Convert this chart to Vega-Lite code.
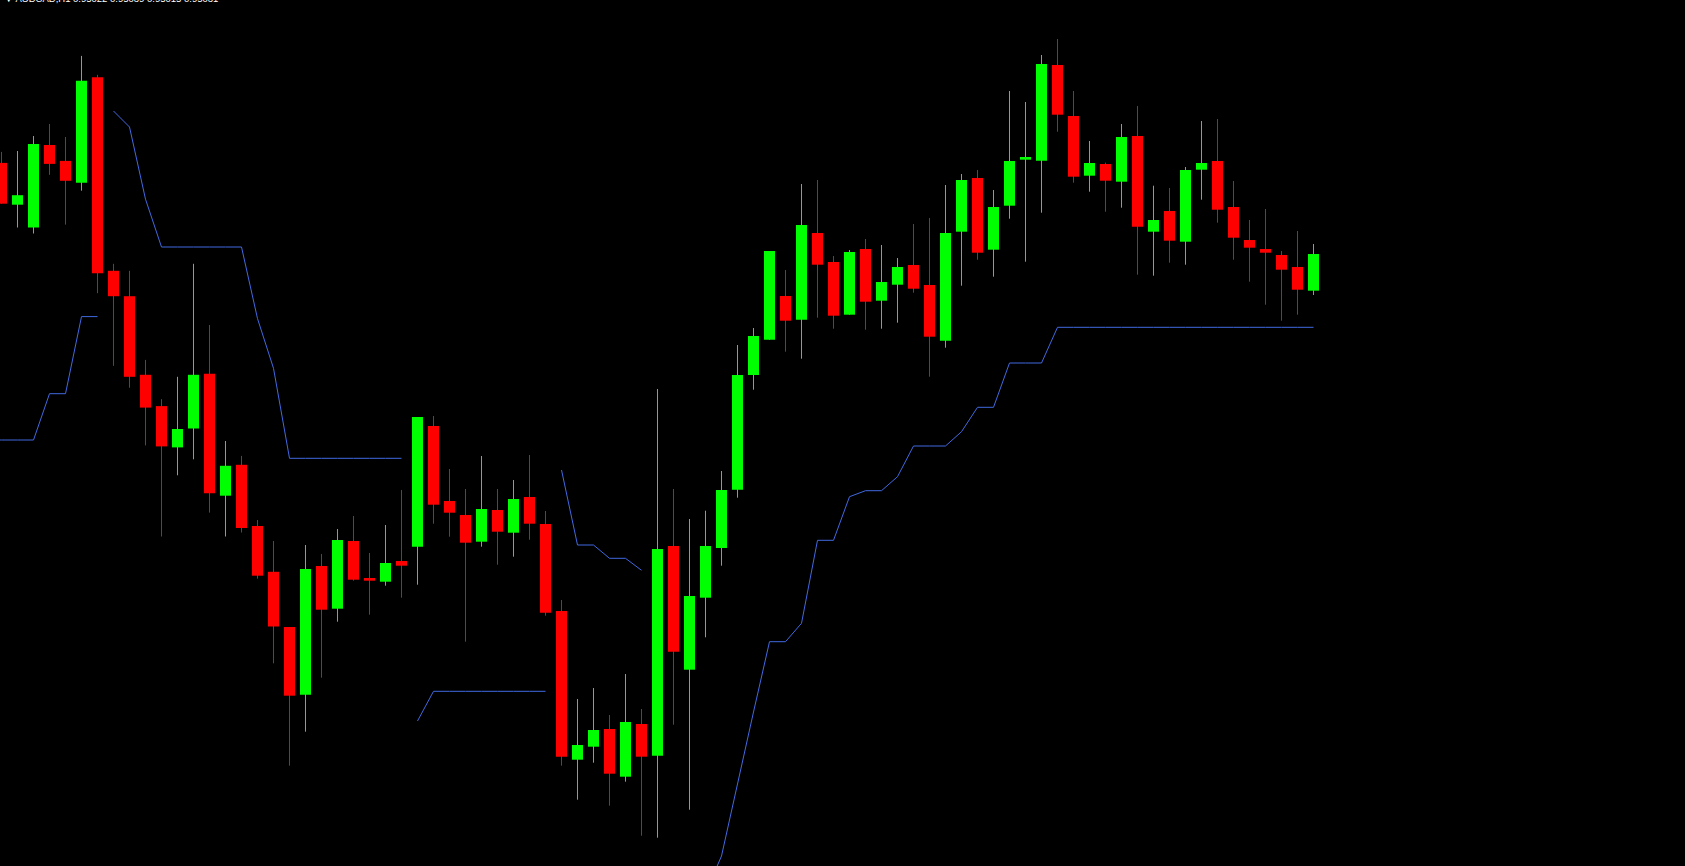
{
"$schema": "https://vega.github.io/schema/vega-lite/v6.json",
"width": 1685, "height": 866,
"autosize": {"type": "none"},
"padding": 0,
"background": "#000000",
"config": {"view": {"stroke": null}},
"title": {"text": "▼ AUDCAD,H1 0.95022 0.95039 0.95015 0.95031", "anchor": "start", "frame": "group", "offset": -11, "dx": 4, "baseline": "alphabetic", "font": "Liberation Sans", "fontSize": 9.5, "fontWeight": "normal", "color": "#ffffff"},
"datasets": {
"candles": [
{"i":0,"d":"down","o":0.951221,"h":0.951331,"l":0.950813,"c":0.950813},
{"i":1,"d":"up","o":0.950803,"h":0.95134,"l":0.950575,"c":0.950898},
{"i":2,"d":"up","o":0.950575,"h":0.95149,"l":0.950515,"c":0.95141},
{"i":3,"d":"down","o":0.9514,"h":0.95161,"l":0.951102,"c":0.951211},
{"i":4,"d":"down","o":0.951241,"h":0.95148,"l":0.950604,"c":0.951042},
{"i":5,"d":"up","o":0.951022,"h":0.952291,"l":0.950943,"c":0.952042},
{"i":6,"d":"down","o":0.952077,"h":0.952102,"l":0.949918,"c":0.950117},
{"i":7,"d":"down","o":0.950142,"h":0.950212,"l":0.949192,"c":0.949888},
{"i":8,"d":"down","o":0.949888,"h":0.950142,"l":0.948973,"c":0.949082},
{"i":9,"d":"down","o":0.949102,"h":0.949251,"l":0.948396,"c":0.948774},
{"i":10,"d":"down","o":0.948789,"h":0.948858,"l":0.947485,"c":0.948386},
{"i":11,"d":"up","o":0.948376,"h":0.949082,"l":0.948097,"c":0.94856},
{"i":12,"d":"up","o":0.948565,"h":0.950212,"l":0.948257,"c":0.949102},
{"i":13,"d":"down","o":0.949112,"h":0.9496,"l":0.947724,"c":0.947918},
{"i":14,"d":"up","o":0.947893,"h":0.94844,"l":0.947485,"c":0.948192},
{"i":15,"d":"down","o":0.948202,"h":0.948291,"l":0.947525,"c":0.94757},
{"i":16,"d":"down","o":0.94759,"h":0.94765,"l":0.947063,"c":0.947093},
{"i":17,"d":"down","o":0.947132,"h":0.94744,"l":0.946217,"c":0.946585},
{"i":18,"d":"down","o":0.94658,"h":0.94658,"l":0.945193,"c":0.945893},
{"i":19,"d":"up","o":0.945903,"h":0.9474,"l":0.945533,"c":0.94716},
{"i":20,"d":"down","o":0.94719,"h":0.94731,"l":0.946073,"c":0.946753},
{"i":21,"d":"up","o":0.946763,"h":0.94756,"l":0.946633,"c":0.94745},
{"i":22,"d":"down","o":0.94744,"h":0.94769,"l":0.947043,"c":0.947053},
{"i":23,"d":"down","o":0.94707,"h":0.94732,"l":0.946703,"c":0.947043},
{"i":24,"d":"up","o":0.947033,"h":0.9476,"l":0.946993,"c":0.94722},
{"i":25,"d":"down","o":0.94724,"h":0.94795,"l":0.946873,"c":0.947193},
{"i":26,"d":"up","o":0.947383,"h":0.94868,"l":0.947003,"c":0.94868},
{"i":27,"d":"down","o":0.94859,"h":0.94869,"l":0.947613,"c":0.947803},
{"i":28,"d":"down","o":0.94784,"h":0.94816,"l":0.947483,"c":0.947723},
{"i":29,"d":"down","o":0.9477,"h":0.94796,"l":0.946433,"c":0.947423},
{"i":30,"d":"up","o":0.947433,"h":0.94829,"l":0.947383,"c":0.94776},
{"i":31,"d":"down","o":0.94775,"h":0.94796,"l":0.947203,"c":0.947533},
{"i":32,"d":"up","o":0.947523,"h":0.94805,"l":0.947283,"c":0.94786},
{"i":33,"d":"down","o":0.94788,"h":0.9483,"l":0.947453,"c":0.947613},
{"i":34,"d":"down","o":0.94761,"h":0.94774,"l":0.946693,"c":0.946723},
{"i":35,"d":"down","o":0.94674,"h":0.94685,"l":0.945193,"c":0.945283},
{"i":36,"d":"up","o":0.945253,"h":0.94586,"l":0.944853,"c":0.9454},
{"i":37,"d":"up","o":0.945383,"h":0.94597,"l":0.945223,"c":0.94555},
{"i":38,"d":"down","o":0.94556,"h":0.9457,"l":0.944793,"c":0.945113},
{"i":39,"d":"up","o":0.945083,"h":0.94611,"l":0.945033,"c":0.94563},
{"i":40,"d":"down","o":0.94561,"h":0.94576,"l":0.944493,"c":0.945283},
{"i":41,"d":"up","o":0.945293,"h":0.94896,"l":0.944473,"c":0.94736},
{"i":42,"d":"down","o":0.94739,"h":0.94796,"l":0.945603,"c":0.946333},
{"i":43,"d":"up","o":0.946153,"h":0.94766,"l":0.944753,"c":0.94689},
{"i":44,"d":"up","o":0.946873,"h":0.947743,"l":0.946477,"c":0.94739},
{"i":45,"d":"up","o":0.94737,"h":0.94814,"l":0.947193,"c":0.94795},
{"i":46,"d":"up","o":0.947953,"h":0.9494,"l":0.947873,"c":0.9491},
{"i":47,"d":"up","o":0.9491,"h":0.94957,"l":0.948953,"c":0.94949},
{"i":48,"d":"up","o":0.949453,"h":0.95034,"l":0.949453,"c":0.95034},
{"i":49,"d":"down","o":0.94989,"h":0.95015,"l":0.949333,"c":0.949643},
{"i":50,"d":"up","o":0.949653,"h":0.95101,"l":0.949263,"c":0.9506},
{"i":51,"d":"down","o":0.95052,"h":0.95105,"l":0.949673,"c":0.950203},
{"i":52,"d":"down","o":0.95023,"h":0.95029,"l":0.949563,"c":0.949693},
{"i":53,"d":"up","o":0.949703,"h":0.95035,"l":0.949703,"c":0.95033},
{"i":54,"d":"down","o":0.95036,"h":0.95046,"l":0.949553,"c":0.949833},
{"i":55,"d":"up","o":0.949843,"h":0.9504,"l":0.949563,"c":0.95003},
{"i":56,"d":"up","o":0.950003,"h":0.95027,"l":0.949623,"c":0.95018},
{"i":57,"d":"down","o":0.9502,"h":0.95061,"l":0.949923,"c":0.949963},
{"i":58,"d":"down","o":0.95,"h":0.95067,"l":0.949083,"c":0.949483},
{"i":59,"d":"up","o":0.949443,"h":0.951,"l":0.949373,"c":0.95052},
{"i":60,"d":"up","o":0.950533,"h":0.95111,"l":0.949993,"c":0.95105},
{"i":61,"d":"down","o":0.95107,"h":0.95115,"l":0.950253,"c":0.950323},
{"i":62,"d":"up","o":0.950353,"h":0.95095,"l":0.950083,"c":0.95078},
{"i":63,"d":"up","o":0.950793,"h":0.95194,"l":0.950663,"c":0.95124},
{"i":64,"d":"up","o":0.951253,"h":0.95183,"l":0.950233,"c":0.95128},
{"i":65,"d":"up","o":0.951243,"h":0.9523,"l":0.950723,"c":0.95221},
{"i":66,"d":"down","o":0.9522,"h":0.95246,"l":0.951533,"c":0.951703},
{"i":67,"d":"down","o":0.95169,"h":0.95194,"l":0.951023,"c":0.951083},
{"i":68,"d":"up","o":0.951093,"h":0.95144,"l":0.950933,"c":0.95122},
{"i":69,"d":"down","o":0.95121,"h":0.951223,"l":0.950733,"c":0.951043},
{"i":70,"d":"up","o":0.951033,"h":0.95161,"l":0.950773,"c":0.95148},
{"i":71,"d":"down","o":0.95149,"h":0.95179,"l":0.950103,"c":0.950583},
{"i":72,"d":"up","o":0.950533,"h":0.950993,"l":0.950093,"c":0.95065},
{"i":73,"d":"down","o":0.95074,"h":0.95097,"l":0.950223,"c":0.950443},
{"i":74,"d":"up","o":0.950433,"h":0.95118,"l":0.950203,"c":0.95115},
{"i":75,"d":"up","o":0.951153,"h":0.95164,"l":0.950853,"c":0.95122},
{"i":76,"d":"down","o":0.95124,"h":0.95166,"l":0.950623,"c":0.950753},
{"i":77,"d":"down","o":0.95078,"h":0.95104,"l":0.950253,"c":0.950473},
{"i":78,"d":"down","o":0.95045,"h":0.95065,"l":0.950033,"c":0.950373},
{"i":79,"d":"down","o":0.95036,"h":0.95076,"l":0.949803,"c":0.950323},
{"i":80,"d":"down","o":0.9503,"h":0.95034,"l":0.949643,"c":0.950153},
{"i":81,"d":"down","o":0.95018,"h":0.95054,"l":0.949703,"c":0.949953},
{"i":82,"d":"up","o":0.949943,"h":0.95041,"l":0.9499,"c":0.95031}
],
"st": [
{"i":-1,"seg":"A","v":0.94845},{"i":0,"seg":"A","v":0.94845},{"i":1,"seg":"A","v":0.94845},{"i":2,"seg":"A","v":0.94845},
{"i":3,"seg":"A","v":0.948913},{"i":4,"seg":"A","v":0.948913},{"i":5,"seg":"A","v":0.949684},{"i":6,"seg":"A","v":0.949684},
{"i":7,"seg":"B","v":0.95174},{"i":8,"seg":"B","v":0.95158},{"i":9,"seg":"B","v":0.950858},
{"i":10,"seg":"B","v":0.95038},{"i":11,"seg":"B","v":0.95038},{"i":12,"seg":"B","v":0.95038},{"i":13,"seg":"B","v":0.95038},{"i":14,"seg":"B","v":0.95038},{"i":15,"seg":"B","v":0.95038},
{"i":16,"seg":"B","v":0.949664},{"i":17,"seg":"B","v":0.949167},
{"i":18,"seg":"B","v":0.948267},{"i":19,"seg":"B","v":0.948267},{"i":20,"seg":"B","v":0.948267},{"i":21,"seg":"B","v":0.948267},{"i":22,"seg":"B","v":0.948267},{"i":23,"seg":"B","v":0.948267},{"i":24,"seg":"B","v":0.948267},{"i":25,"seg":"B","v":0.948267},
{"i":26,"seg":"C","v":0.94564},{"i":27,"seg":"C","v":0.945937},{"i":28,"seg":"C","v":0.945937},{"i":29,"seg":"C","v":0.945937},{"i":30,"seg":"C","v":0.945937},{"i":31,"seg":"C","v":0.945937},{"i":32,"seg":"C","v":0.945937},{"i":33,"seg":"C","v":0.945937},{"i":34,"seg":"C","v":0.945937},
{"i":35,"seg":"D","v":0.94815},{"i":36,"seg":"D","v":0.9474},{"i":37,"seg":"D","v":0.9474},{"i":38,"seg":"D","v":0.947267},{"i":39,"seg":"D","v":0.947267},{"i":40,"seg":"D","v":0.947147},
{"i":44,"seg":"E","v":0.94392},{"i":45,"seg":"E","v":0.94429},{"i":46,"seg":"E","v":0.94501},{"i":47,"seg":"E","v":0.94573},
{"i":48,"seg":"E","v":0.946433},{"i":49,"seg":"E","v":0.946433},{"i":50,"seg":"E","v":0.946617},{"i":51,"seg":"E","v":0.947447},{"i":52,"seg":"E","v":0.947447},
{"i":53,"seg":"E","v":0.947883},{"i":54,"seg":"E","v":0.947943},{"i":55,"seg":"E","v":0.947943},{"i":56,"seg":"E","v":0.948083},
{"i":57,"seg":"E","v":0.94839},{"i":58,"seg":"E","v":0.94839},{"i":59,"seg":"E","v":0.94839},{"i":60,"seg":"E","v":0.948533},
{"i":61,"seg":"E","v":0.948777},{"i":62,"seg":"E","v":0.948777},{"i":63,"seg":"E","v":0.94922},{"i":64,"seg":"E","v":0.94922},{"i":65,"seg":"E","v":0.94922},
{"i":66,"seg":"E","v":0.949577},{"i":67,"seg":"E","v":0.949577},{"i":68,"seg":"E","v":0.949577},{"i":69,"seg":"E","v":0.949577},{"i":70,"seg":"E","v":0.949577},{"i":71,"seg":"E","v":0.949577},{"i":72,"seg":"E","v":0.949577},{"i":73,"seg":"E","v":0.949577},{"i":74,"seg":"E","v":0.949577},{"i":75,"seg":"E","v":0.949577},{"i":76,"seg":"E","v":0.949577},{"i":77,"seg":"E","v":0.949577},{"i":78,"seg":"E","v":0.949577},{"i":79,"seg":"E","v":0.949577},{"i":80,"seg":"E","v":0.949577},{"i":81,"seg":"E","v":0.949577},{"i":82,"seg":"E","v":0.949577}
]
},
"encoding": {
"x": {"field": "i", "type": "quantitative", "scale": {"domain": [-0.09375, 105.21875], "nice": false, "zero": false, "padding": 0}, "axis": null}
},
"layer": [
{"data": {"name": "candles"}, "mark": {"type": "rule", "strokeWidth": 1},
 "encoding": {
  "y": {"field": "l", "type": "quantitative", "scale": {"domain": [0.94419, 0.95285], "nice": false, "zero": false, "padding": 0}, "axis": null},
  "y2": {"field": "h"},
  "color": {"field": "d", "type": "nominal", "scale": {"domain": ["up", "down"], "range": ["#00ff00", "#ff0000"]}, "legend": null}
 }},
{"data": {"name": "candles"}, "mark": {"type": "bar", "size": 11},
 "encoding": {
  "y": {"field": "o", "type": "quantitative"},
  "y2": {"field": "c"},
  "color": {"field": "d", "type": "nominal", "legend": null}
 }},
{"data": {"name": "st"}, "mark": {"type": "line", "strokeWidth": 1, "color": "#4169e1", "clip": true},
 "encoding": {
  "y": {"field": "v", "type": "quantitative"},
  "detail": {"field": "seg", "type": "nominal"}
 }}
]
}
